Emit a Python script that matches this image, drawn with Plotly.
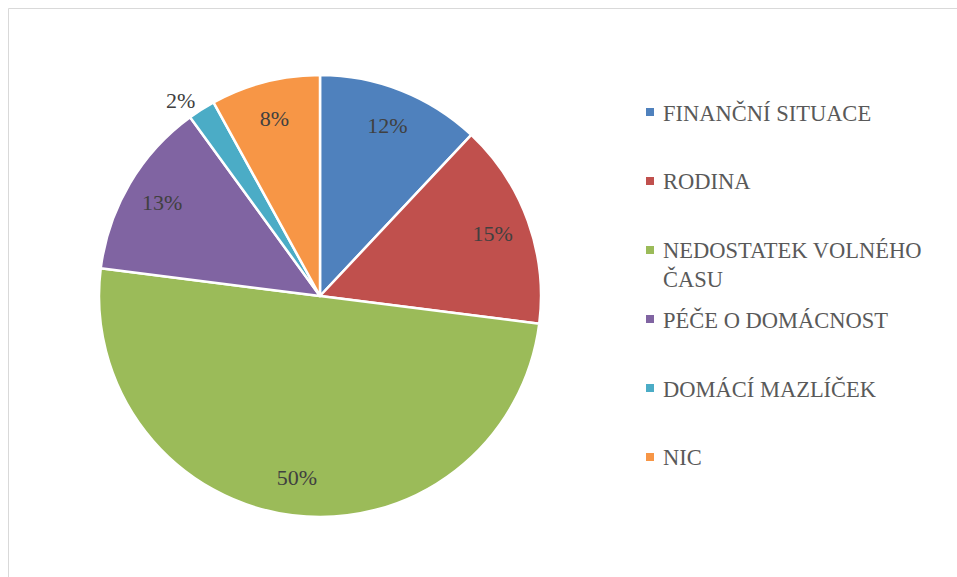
import plotly.graph_objects as go

categories = ["FINANČNÍ SITUACE", "RODINA", "NEDOSTATEK VOLNÉHO ČASU",
              "PÉČE O DOMÁCNOST", "DOMÁCÍ MAZLÍČEK", "NIC"]
legend_text = ["FINANČNÍ SITUACE", "RODINA", "NEDOSTATEK VOLNÉHO<br>ČASU",
               "PÉČE O DOMÁCNOST", "DOMÁCÍ MAZLÍČEK", "NIC"]
values = [12, 15, 50, 13, 2, 8]
colors = ["#4F81BD", "#C0504D", "#9BBB59", "#8064A2", "#4BACC6", "#F79646"]
text_positions = ["inside", "inside", "inside", "inside", "outside", "inside"]

SERIF = "Liberation Serif"
W, H = 957, 577
cx, cy, r = 320, 296, 221
dom = dict(x=[(cx - r) / W, (cx + r) / W], y=[(H - cy - r) / H, (H - cy + r) / H])

fig = go.Figure()
# coloured slices
fig.add_trace(go.Pie(
    labels=categories, values=values, sort=False, direction="clockwise",
    rotation=0, marker=dict(colors=colors, line=dict(color="white", width=2.5)),
    textinfo="none", domain=dom, showlegend=False, hoverinfo="label+percent",
))
# transparent ring overlay carrying the percentage labels (Excel-like label placement)
fig.add_trace(go.Pie(
    labels=categories, values=values, sort=False, direction="clockwise",
    rotation=0, hole=0.66,
    marker=dict(colors=["rgba(0,0,0,0)"] * len(values), line=dict(width=0)),
    textinfo="percent", textposition=text_positions,
    insidetextorientation="horizontal",
    textfont=dict(family=SERIF, size=22, color="#404040"),
    domain=dom, showlegend=False, hoverinfo="skip",
))

# legend drawn manually (Excel-style spacing)
leg_x_text = 661 / W
y0, dy = 112, 69.0
shapes = [dict(type="rect", xref="paper", yref="paper",
               x0=8.5 / W, x1=1.05, y0=-0.05, y1=(H - 8.5) / H,
               line=dict(color="#D9D9D9", width=1), fillcolor="rgba(0,0,0,0)")]
annotations = []
for i, (lab, col) in enumerate(zip(legend_text, colors)):
    yy = y0 + i * dy
    s = 8
    shapes.append(dict(type="rect", xref="paper", yref="paper",
                       x0=646 / W, x1=(646 + s) / W,
                       y0=(H - yy - s / 2) / H, y1=(H - yy + s / 2) / H,
                       line=dict(width=0), fillcolor=col))
    annotations.append(dict(xref="paper", yref="paper", x=leg_x_text, y=(H - yy + 14.5) / H,
                            xanchor="left", yanchor="top", align="left", showarrow=False,
                            text=lab,
                            font=dict(family=SERIF, size=22.5, color="#595959")))

fig.update_layout(
    width=W, height=H, margin=dict(l=0, r=0, t=0, b=0),
    paper_bgcolor="white", plot_bgcolor="white",
    shapes=shapes, annotations=annotations,
)
fig.write_html("out.html", config={"displayModeBar": False},
               post_script="document.body.style.margin='0px';document.body.style.overflow='hidden';")
